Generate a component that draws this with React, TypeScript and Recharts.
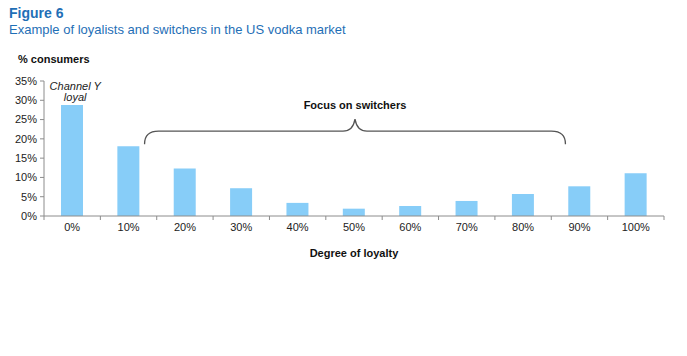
import React from "react";
import { BarChart, Bar, XAxis, YAxis, ReferenceLine, ReferenceDot } from "recharts";

const loyaltyLevels = ["0%", "10%", "20%", "30%", "40%", "50%", "60%", "70%", "80%", "90%", "100%"];
const consumerShare = [28.8, 18.1, 12.3, 7.2, 3.4, 1.9, 2.6, 3.9, 5.7, 7.7, 11.1];
const yTicks = [0, 5, 10, 15, 20, 25, 30, 35];

const data = loyaltyLevels.map((level, i) => ({ level, share: consumerShare[i] }));

const FONT = "'Liberation Sans', Arial, sans-serif";
const TITLE_BLUE = "#1f6fb6";

const XTick = (props: any) => {
  const { x, y, payload, index, visibleTicksCount } = props;
  const half = payload && payload.offset ? payload.offset : 28.2;
  const last = index === (visibleTicksCount ?? loyaltyLevels.length) - 1;
  return (
    <g>
      <line x1={x - half} y1={y} x2={x - half} y2={y + 4} stroke="#8c8c8c" />
      {last && <line x1={x + half} y1={y} x2={x + half} y2={y + 4} stroke="#8c8c8c" />}
      <text x={x} y={y + 15} textAnchor="middle" fontSize={11} fontFamily={FONT} fill="#222">
        {payload.value}
      </text>
    </g>
  );
};

// curly brace spanning the switchers, drawn between the segment end points
const Brace = (props: any) => {
  const { x1, y1, x2 } = props;
  const top = y1;
  const drop = 13;
  const r = 14;
  const mid = (x1 + x2) / 2;
  const d = [
    `M ${x1} ${top + drop}`,
    `Q ${x1} ${top} ${x1 + r} ${top}`,
    `L ${mid - 12} ${top}`,
    `Q ${mid - 2} ${top} ${mid} ${top - 12}`,
    `Q ${mid + 2} ${top} ${mid + 12} ${top}`,
    `L ${x2 - r} ${top}`,
    `Q ${x2} ${top} ${x2} ${top + drop}`,
  ].join(" ");
  return (
    <g>
      <path d={d} fill="none" stroke="#555" strokeWidth={1.3} />
      <text x={mid} y={top - 22} textAnchor="middle" fontSize={11} fontWeight="bold" fontFamily={FONT} fill="#111">
        Focus on switchers
      </text>
    </g>
  );
};

const LoyalNote = (props: any) => {
  const { cx, cy } = props;
  return (
    <text x={cx + 3} y={cy} textAnchor="middle" fontSize={11} fontStyle="italic" fontFamily={FONT} fill="#222">
      <tspan x={cx + 3} dy={0}>Channel Y</tspan>
      <tspan x={cx + 3} dy={11}>loyal</tspan>
    </text>
  );
};

export default function App() {
  return (
    <div style={{ position: "absolute", left: 0, top: 0, width: 687, height: 356, background: "#fff", fontFamily: FONT }}>
      <div style={{ position: "absolute", left: 9, top: 5, fontSize: 14, fontWeight: "bold", color: TITLE_BLUE }}>Figure 6</div>
      <div style={{ position: "absolute", left: 9, top: 22, fontSize: 13, color: TITLE_BLUE }}>
        Example of loyalists and switchers in the US vodka market
      </div>
      <div style={{ position: "absolute", left: 18, top: 53, fontSize: 11, fontWeight: "bold", color: "#111" }}>% consumers</div>
      <div style={{ position: "absolute", left: 0, top: 0 }}>
        <BarChart width={687} height={356} data={data} margin={{ top: 81, right: 23, bottom: 99, left: 0 }} barCategoryGap="20%">
          <XAxis
            dataKey="level"
            tick={<XTick />}
            tickSize={0}
            tickMargin={0}
            tickLine={false}
            axisLine={{ stroke: "#8c8c8c" }}
            interval={0}
            height={41}
            label={{ value: "Degree of loyalty", position: "insideBottom", offset: 0, fontSize: 11, fontWeight: "bold", fill: "#111", fontFamily: FONT }}
          />
          <YAxis
            domain={[0, 35]}
            ticks={yTicks}
            width={44}
            tickFormatter={(v: number) => `${v}%`}
            tick={{ fontSize: 11, fill: "#222", fontFamily: FONT }}
            tickSize={4}
            tickMargin={3}
            tickLine={{ stroke: "#8c8c8c" }}
            axisLine={{ stroke: "#8c8c8c" }}
            interval={0}
          />
          <Bar dataKey="share" fill="#87cdf8" barSize={22} isAnimationActive={false} />
          <ReferenceLine
            segment={[{ x: "10%", y: 22 }, { x: "90%", y: 22 }]}
            shape={(p: any) => <Brace {...p} x1={p.x1 + 16} x2={p.x2 - 14} />}
          />
          <ReferenceDot x="0%" y={32.7} r={0} shape={(p: any) => <LoyalNote {...p} />} />
        </BarChart>
      </div>
    </div>
  );
}
